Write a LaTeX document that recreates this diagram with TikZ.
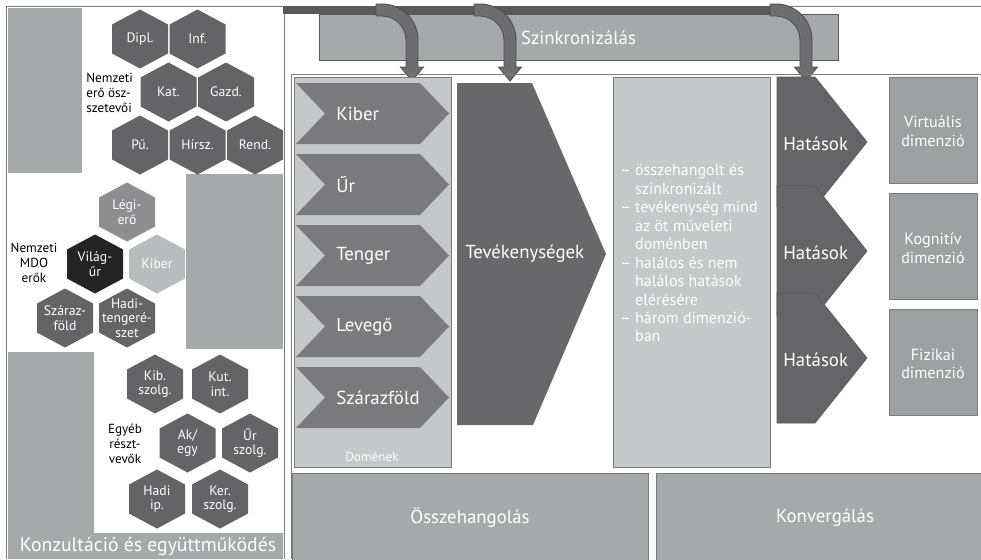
\documentclass[tikz,border=0pt]{standalone}
\usepackage{fontspec}
\setmainfont{PT Sans}
\definecolor{hexdark}{HTML}{646466}
\definecolor{chevc}{HTML}{7A7A7C}
\definecolor{tevc}{HTML}{68686A}
\definecolor{panelgray}{HTML}{A7A8AA}
\definecolor{domainbg}{HTML}{C6C7C9}
\definecolor{dimbox}{HTML}{9E9FA1}
\definecolor{barc}{HTML}{59595B}
\definecolor{arrowc}{HTML}{6E6E70}
\definecolor{arrowedge}{HTML}{4E4E50}
\definecolor{legi}{HTML}{8E8E90}
\definecolor{kiberhex}{HTML}{BABBBD}
\definecolor{vilag}{HTML}{242424}
\definecolor{edgec}{HTML}{7C7C7E}
\definecolor{hatc}{HTML}{656567}
\newcommand\biglab{\fontsize{10.7}{12}\selectfont}
\newcommand\konzfont{\fontsize{11.2}{12}\selectfont}
\newcommand\hexfont{\fontsize{7.8}{8.3}\selectfont}
\newcommand\capfont{\fontsize{7.5}{8.5}\selectfont}
\newcommand\bulfont{\fontsize{9.1}{10.5}\selectfont}
\newcommand\dimfont{\fontsize{9.2}{10.6}\selectfont}
\newcommand\domfont{\fontsize{7.5}{8}\selectfont}
\tikzset{
  lab/.style={text=white, font=\biglab, inner sep=0},
  hextext/.style={text=white, font=\hexfont, align=center, inner sep=0},
  captext/.style={text=black, font=\capfont, inner sep=0},
  framec/.style={draw=edgec, line width=0.5pt},
}
% hexagon: x, y, colour, name, text
\newcommand\hexnode[5]{%
  \fill[#3] (#1,#2) +(0,-29.5) -- +(28,-14.5) -- +(28,14.5) -- +(0,29.5) -- +(-28,14.5) -- +(-28,-14.5) -- cycle;
  \node[hextext] (#4) at (#1,#2) {#5};}
% domain chevron: top y, name, text
\newcommand\chevron[3]{%
  \fill[chevc] (296,#1) -- (420,#1) -- (449,#1+30.5) -- (420,#1+61) -- (296,#1+61) -- (325,#1+30.5) -- cycle;
  \node[lab, anchor=west] (#2) at (336,#1+31) {#3};}
% effect shape: top y, name
\newcommand\hatshape[2]{%
  \filldraw[fill=hatc, draw=barc, line width=0.4pt] (777,#1) -- (815,#1) -- (867,#1+65) -- (815,#1+130) -- (777,#1+130) -- cycle;
  \node[lab, anchor=west] (#2) at (783,#1+67) {Hatások};}
% synchronisation arrow: shaft centre x
\newcommand\syncarrow[1]{%
  \filldraw[fill=arrowc, draw=arrowedge, line width=0.5pt]
    (#1-36,4) -- (#1-30,4) arc[start angle=-90, end angle=0, radius=36]
    -- (#1+6,67) -- (#1+11.5,67) -- (#1,81) -- (#1-11.5,67) -- (#1-6,67)
    -- (#1-6,40) arc[start angle=0, end angle=-90, radius=24] -- (#1-36,16) -- cycle;}
\begin{document}
\begin{tikzpicture}[x=0.02cm, y=-0.02cm]
\useasboundingbox (0,0) rectangle (981,559);
\fill[white] (0,0) rectangle (981,559);

% ---------------- left panel ----------------
\fill[panelgray] (8,8) rectangle (82,173);
\fill[panelgray] (186,174) rectangle (283,349);
\fill[panelgray] (8,352) -- (94,352) -- (94,533) -- (283,533) -- (283,559) -- (8,559) -- cycle;
\draw[framec] (6,559) -- (6,6) -- (981,6);
\draw[framec] (284,6) -- (284,559);
\node[text=white, font=\konzfont, inner sep=0] (konz) at (148,546) {Konzultáció és együttműködés};

\hexnode{140}{39}{hexdark}{dipl}{Dipl.}
\hexnode{197.5}{39}{hexdark}{inf}{Inf.}
\hexnode{168.5}{92}{hexdark}{kat}{Kat.}
\hexnode{226}{92}{hexdark}{gazd}{Gazd.}
\hexnode{140}{145}{hexdark}{pu}{Pű.}
\hexnode{197.5}{145}{hexdark}{hirsz}{Hírsz.}
\hexnode{255}{145}{hexdark}{rend}{Rend.}
\node[captext, align=left, anchor=west] (nemz) at (86,93) {Nemzeti\\erő ösz-\\szetevői};

\hexnode{127}{212}{legi}{legi}{Légi-\\erő}
\hexnode{95}{264}{vilag}{vilag}{Világ-\\űr}
\hexnode{157}{264}{kiberhex}{kiberh}{Kiber}
\hexnode{65}{318}{hexdark}{szaraz}{Száraz-\\föld}
\hexnode{127}{318}{hexdark}{haditg}{Hadi-\\tengeré-\\szet}
\node[captext, align=center] (mdo) at (34,263) {Nemzeti\\MDO\\erők};

\hexnode{155}{384}{hexdark}{kib}{Kib.\\szolg.}
\hexnode{220}{384}{hexdark}{kut}{Kut.\\int.}
\hexnode{187.5}{443}{hexdark}{akegy}{Ak/\\egy}
\hexnode{250}{443}{hexdark}{ursz}{Űr\\szolg.}
\hexnode{157}{499}{hexdark}{hadiip}{Hadi\\ip.}
\hexnode{220}{499}{hexdark}{kersz}{Ker.\\szolg.}
\node[captext, align=center] (egyeb) at (125,444) {Egyéb\\részt-\\vevők};

% ---------------- synchronisation ----------------
\filldraw[fill=panelgray, draw=barc, line width=0.5pt] (319,14) rectangle (838,60);
\node[lab] (sync) at (578.5,38) {Szinkronizálás};
\fill[barc] (283,6) rectangle (790,14);
\syncarrow{412}
\syncarrow{510}
\syncarrow{806}

% ---------------- main frame ----------------
\draw[framec] (291,559) -- (291,74) -- (981,74);

% domains
\filldraw[fill=domainbg, draw=edgec, line width=0.5pt] (294,77) rectangle (451,467);
\chevron{83}{kiber}{Kiber}
\chevron{154}{ur}{Űr}
\chevron{225}{tenger}{Tenger}
\chevron{296}{levego}{Levegő}
\chevron{367}{szarazf}{Szárazföld}
\node[text=white, font=\domfont, inner sep=0] (domen) at (372,457) {Domének};

% activities
\fill[tevc] (457,83) -- (532,83) -- (606,254) -- (533,425) -- (457,425) -- cycle;
\node[lab, anchor=west] (tev) at (465,254) {Tevékenységek};

% description
\filldraw[fill=domainbg, draw=edgec, line width=0.5pt] (613,77) rectangle (770,467);
\node[text=white, font=\bulfont, align=left, anchor=north west, inner sep=0] (desc) at (620,164)
 {– összehangolt és\\
  \phantom{– }szinkronizált\\
  – tevékenység mind\\
  \phantom{– }az öt műveleti\\
  \phantom{– }doménben\\
  – halálos és nem\\
  \phantom{– }halálos hatások\\
  \phantom{– }elérésére\\
  – három dimenzió-\\
  \phantom{– }ban};

% effects
\hatshape{77}{hat1}
\hatshape{186}{hat2}
\hatshape{293}{hat3}

% dimensions
\filldraw[fill=dimbox, draw=edgec, line width=0.5pt] (889,77) rectangle (977,183);
\node[text=white, font=\dimfont, align=center, inner sep=0] (virt) at (933,131) {Virtuális\\dimenzió};
\filldraw[fill=dimbox, draw=edgec, line width=0.5pt] (889,193) rectangle (977,299);
\node[text=white, font=\dimfont, align=center, inner sep=0] (kogn) at (933,248) {Kognitív\\dimenzió};
\filldraw[fill=dimbox, draw=edgec, line width=0.5pt] (889,309) rectangle (977,415);
\node[text=white, font=\dimfont, align=center, inner sep=0] (fiz) at (933,364) {Fizikai\\dimenzió};

% bottom bars
\filldraw[fill=panelgray, draw=edgec, line width=0.5pt] (292,473) rectangle (648,560);
\node[lab] (ossze) at (470,518) {Összehangolás};
\filldraw[fill=panelgray, draw=edgec, line width=0.5pt] (656,473) rectangle (982,560);
\node[lab] (konv) at (825,518) {Konvergálás};
\end{tikzpicture}
\end{document}
